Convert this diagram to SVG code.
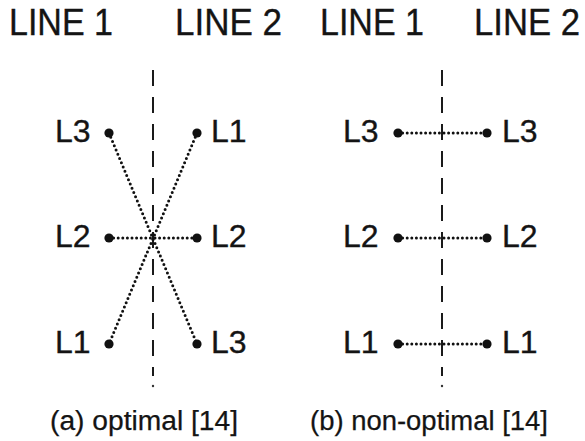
<svg xmlns="http://www.w3.org/2000/svg" width="585" height="441" viewBox="0 0 585 441">
  <style>
    text { font-family: "Liberation Sans", Arial, sans-serif; fill: #141414; stroke: #141414; stroke-width: 0.35px; }
    .head { font-size: 36px; }
    .lbl { font-size: 32px; }
    .cap { font-size: 27px; stroke-width: 0.25px; }
    .divider { stroke: #1a1a1a; stroke-width: 2; stroke-dasharray: 16 11; fill: none; }
    .link { stroke: #111; stroke-width: 3; stroke-dasharray: 0 4.6; stroke-linecap: round; fill: none; }
    .dot { fill: #111; }
  </style>
  <rect width="585" height="441" fill="#ffffff"/>

  <!-- column headings -->
  <g id="headings">
    <text class="head" x="9" y="35" textLength="104" lengthAdjust="spacingAndGlyphs">LINE 1</text>
    <text class="head" x="175" y="35" textLength="107" lengthAdjust="spacingAndGlyphs">LINE 2</text>
    <text class="head" x="320" y="35" textLength="104" lengthAdjust="spacingAndGlyphs">LINE 1</text>
    <text class="head" x="474" y="35" textLength="106" lengthAdjust="spacingAndGlyphs">LINE 2</text>
  </g>

  <!-- dividing lines between the two production lines -->
  <g id="dividers">
    <line class="divider" x1="153" y1="70" x2="153" y2="376"/>
    <circle cx="153" cy="386" r="1.2" fill="#333"/>
    <line class="divider" x1="442" y1="70" x2="442" y2="376"/>
    <circle cx="442" cy="386" r="1.2" fill="#333"/>
  </g>

  <!-- connectors -->
  <g id="connectors">
    <line class="link" x1="109" y1="133" x2="197" y2="344"/>
    <line class="link" x1="197" y1="133" x2="109" y2="344"/>
    <line class="link" x1="109" y1="238" x2="197" y2="238"/>
    <line class="link" x1="398" y1="133" x2="487" y2="133"/>
    <line class="link" x1="398" y1="238" x2="487" y2="238"/>
    <line class="link" x1="398" y1="344" x2="487" y2="344"/>
  </g>

  <!-- (a) optimal: line 1 nodes -->
  <g id="a-line1-L3"><circle class="dot" cx="109" cy="133" r="4.6"/><text class="lbl" x="55" y="142">L3</text></g>
  <g id="a-line1-L2"><circle class="dot" cx="109" cy="238" r="4.6"/><text class="lbl" x="55" y="247">L2</text></g>
  <g id="a-line1-L1"><circle class="dot" cx="109" cy="344" r="4.6"/><text class="lbl" x="55" y="353">L1</text></g>
  <!-- (a) optimal: line 2 nodes -->
  <g id="a-line2-L1"><circle class="dot" cx="197" cy="133" r="4.6"/><text class="lbl" x="211" y="142">L1</text></g>
  <g id="a-line2-L2"><circle class="dot" cx="197" cy="238" r="4.6"/><text class="lbl" x="211" y="247">L2</text></g>
  <g id="a-line2-L3"><circle class="dot" cx="197" cy="344" r="4.6"/><text class="lbl" x="211" y="353">L3</text></g>

  <!-- (b) non-optimal: line 1 nodes -->
  <g id="b-line1-L3"><circle class="dot" cx="398" cy="133" r="4.6"/><text class="lbl" x="343" y="142">L3</text></g>
  <g id="b-line1-L2"><circle class="dot" cx="398" cy="238" r="4.6"/><text class="lbl" x="343" y="247">L2</text></g>
  <g id="b-line1-L1"><circle class="dot" cx="398" cy="344" r="4.6"/><text class="lbl" x="343" y="353">L1</text></g>
  <!-- (b) non-optimal: line 2 nodes -->
  <g id="b-line2-L3"><circle class="dot" cx="487" cy="133" r="4.6"/><text class="lbl" x="502" y="142">L3</text></g>
  <g id="b-line2-L2"><circle class="dot" cx="487" cy="238" r="4.6"/><text class="lbl" x="502" y="247">L2</text></g>
  <g id="b-line2-L1"><circle class="dot" cx="487" cy="344" r="4.6"/><text class="lbl" x="502" y="353">L1</text></g>

  <!-- captions -->
  <g id="captions">
    <text class="cap" x="50" y="430" textLength="188" lengthAdjust="spacingAndGlyphs">(a) optimal [14]</text>
    <text class="cap" x="310" y="430" textLength="238" lengthAdjust="spacingAndGlyphs">(b) non-optimal [14]</text>
  </g>
</svg>
